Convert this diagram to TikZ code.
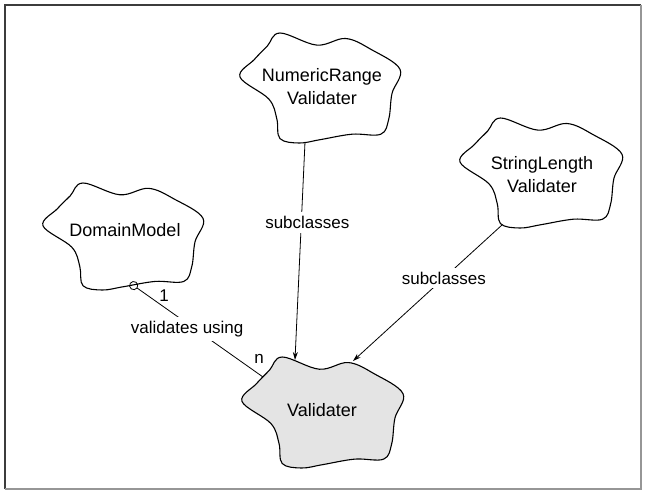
\documentclass[tikz,border=0pt]{standalone}
\usepackage{fontspec}
\setmainfont{Liberation Sans}
\usetikzlibrary{arrows.meta}
\definecolor{framedark}{RGB}{60,60,60}
\definecolor{framelight}{RGB}{150,150,150}
\definecolor{valfill}{RGB}{228,228,228}

\begin{document}
\begin{tikzpicture}[
  x=1pt, y=-1pt,
  blob/.pic={\draw[pic actions, line width=1.1pt, line join=round]
    plot[smooth cycle, tension=0.6] coordinates {(-0.25,-0.5) (-0.02,-0.39) (0.16,-0.45) (0.32,-0.35) (0.5,-0.17) (0.45,0.05) (0.43,0.28) (0.38,0.42) (0.2,0.42) (0,0.47) (-0.13,0.5) (-0.25,0.46) (-0.27,0.28) (-0.32,0.1) (-0.5,-0.1) (-0.41,-0.26) (-0.33,-0.38)};},
  class/.style={align=center, font=\fontsize{18}{23}\selectfont},
  lbl/.style={font=\fontsize{17}{20}\selectfont, fill=white, inner sep=4pt},
  mult/.style={font=\fontsize{17}{20}\selectfont, inner sep=0pt},
  arrow/.style={-{Stealth[length=8pt,width=5pt]}, line width=0.8pt}
]
\useasboundingbox (0,0) rectangle (646,495);
\draw[framedark, line width=1.2pt] (5,489) -- (5,5) -- (641,5);
\draw[framelight, line width=1.2pt] (641,5) -- (641,489) -- (5,489);

\pic[draw, fill=white, xscale=160, yscale=110] at (320,88) {blob};
\pic[draw, fill=white, xscale=162, yscale=110] at (541,173) {blob};
\pic[draw, fill=white, xscale=160, yscale=107] at (123,236.5) {blob};
\pic[draw, fill=valfill, xscale=161, yscale=111] at (322.5,412.5) {blob};

\node[class] (nr) at (322,87) {NumericRange\\Validater};
\node[class] (sl) at (542,175) {StringLength\\Validater};
\node[class] (dm) at (125,230) {DomainModel};
\node[class] (val) at (322,410) {Validater};

\coordinate (nr-s) at (305,142);
\coordinate (sl-s) at (502,225);
\coordinate (dm-s) at (130,283);
\coordinate (val-n) at (295,360);
\coordinate (val-ne) at (353,361);
\coordinate (val-w) at (263,377);

\draw[arrow] (nr-s) -- node[lbl, pos=0.37, xshift=6pt] {subclasses} (val-n);
\draw[arrow] (sl-s) -- node[lbl, pos=0.39] {subclasses} (val-ne);
\draw[{Circle[open,length=9pt,width=9pt]}-, line width=0.8pt] (dm-s) -- node[lbl, pos=0.43, yshift=-6pt] {validates using} (val-w);
\node[mult] (one) at (164,296) {1};
\node[mult] (many) at (259,359) {n};
\end{tikzpicture}
\end{document}
